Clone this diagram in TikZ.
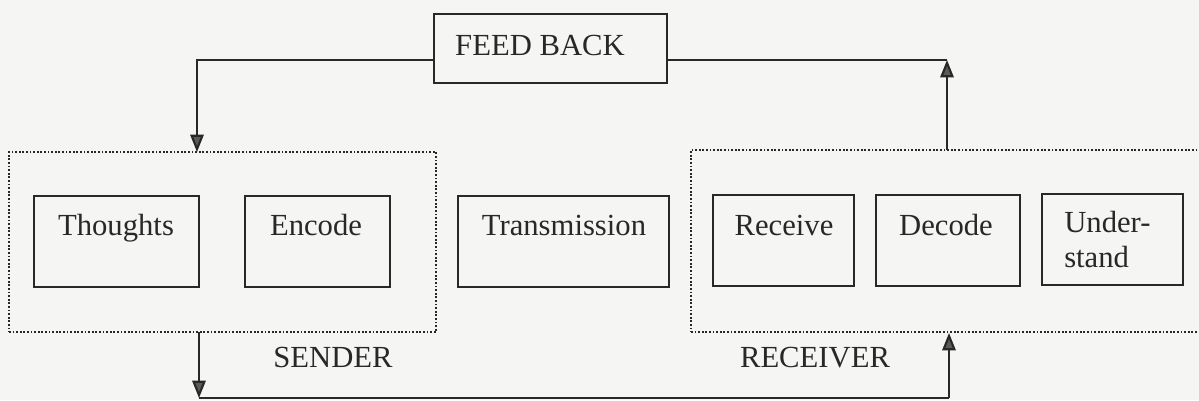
\documentclass[tikz,border=0pt]{standalone}
\usepackage{fontspec}
\setmainfont{Liberation Serif}
\usetikzlibrary{arrows.meta,fit}
\definecolor{paper}{RGB}{245,245,244}
\definecolor{ink}{RGB}{40,40,40}
\definecolor{tipgray}{RGB}{90,90,90}
\begin{document}
\begin{tikzpicture}[x=0.75pt,y=-0.75pt,
  stepbox/.style={draw=ink, line width=1.8pt, inner sep=0pt},
  groupbox/.style={draw=ink, line width=1.4pt, dash pattern=on 1.4pt off 1.3pt, inner sep=0pt},
  lbl/.style={text=ink, font=\fontsize{23}{26.25}\selectfont, inner sep=0pt},
  link/.style={draw=ink, line width=1.6pt},
  tip/.style={-{Triangle[length=13pt,width=10pt,fill=tipgray]}}]
% page
\fill[paper] (0,0) rectangle (1199,400);
\useasboundingbox (0,0) rectangle (1199,400);

% feedback block
\node[stepbox, fit={(434,14) (667,83)}] (fb) {};
\node[lbl, anchor=base] (fbT) at (540,55) {FEED BACK};

% sender group
\node[groupbox, fit={(9,152) (436,332)}] (sender) {};
\node[stepbox, fit={(34,196) (199,287)}] (thoughts) {};
\node[lbl, anchor=base] (thoughtsT) at (116,235) {Thoughts};
\node[stepbox, fit={(245,196) (390,287)}] (encode) {};
\node[lbl, anchor=base] (encodeT) at (316,235) {Encode};
\node[lbl, anchor=base] (senderT) at (333,367) {SENDER};

% channel
\node[stepbox, fit={(458,196) (669,287)}] (trans) {};
\node[lbl, anchor=base] (transT) at (564,235) {Transmission};

% receiver group (runs off the right edge)
\begin{scope}
  \clip (0,0) rectangle (1199,400);
  \node[groupbox, fit={(691,150) (1215,332)}] (receiver) {};
\end{scope}
\node[stepbox, fit={(713,195) (854,286)}] (receive) {};
\node[lbl, anchor=base] (receiveT) at (784,235) {Receive};
\node[stepbox, fit={(876,195) (1020,286)}] (decode) {};
\node[lbl, anchor=base] (decodeT) at (946,235) {Decode};
\node[stepbox, fit={(1042,194) (1183,285)}] (under) {};
% two-line label: base anchor sits on the last line
\node[lbl, anchor=base west, align=left] (underT) at (1064,267) {Under-\\stand};
\node[lbl, anchor=base] (receiverT) at (815,367) {RECEIVER};

% connector end points
\coordinate (fbL) at (434,60);
\coordinate (sIn) at (197,152);
\coordinate (fbR) at (667,60);
\coordinate (fbTurn) at (947,60);
\coordinate (rOut) at (947,150);
\coordinate (sOut) at (199,332);
\coordinate (bL) at (199,398);
\coordinate (bR) at (949,398);
\coordinate (rIn) at (949,333);

% feedback loop
\draw[link, tip] (fbL) -| (sIn);
\draw[link] (fbR) -- (fbTurn);
\draw[link, tip] (rOut) -- (fbTurn);

% message path
\draw[link, tip] (sOut) -- (bL);
\draw[link] (bL) -- (bR);
\draw[link, tip] (bR) -- (rIn);
\end{tikzpicture}
\end{document}
